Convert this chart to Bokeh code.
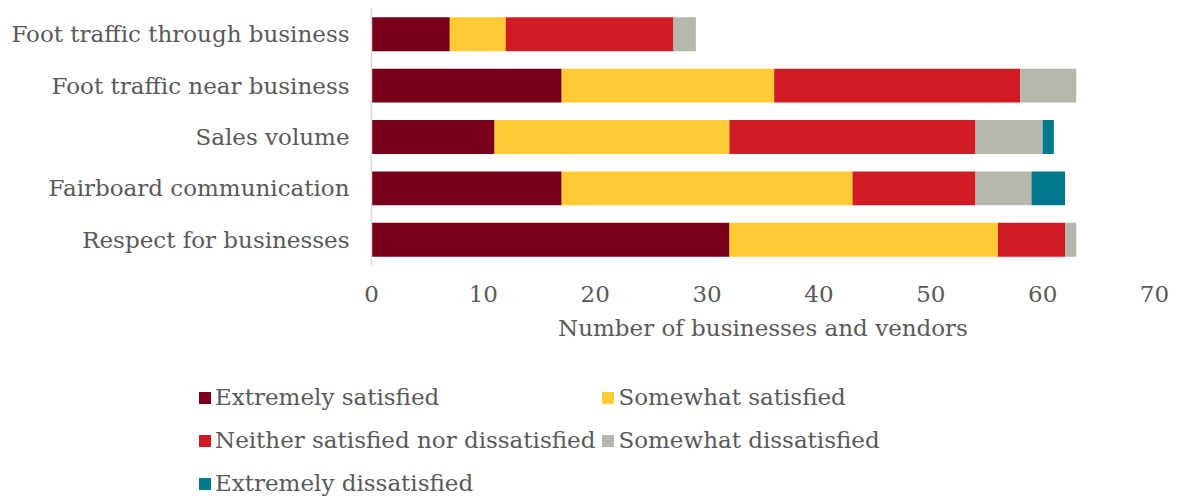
from bokeh.plotting import figure
from bokeh.layouts import column, row
from bokeh.models import ColumnDataSource, Legend, LegendItem, FactorRange, Range1d, FixedTicker, Spacer
from bokeh.embed import file_html
from bokeh.resources import INLINE

categories = [
    "Foot traffic through business",
    "Foot traffic near business",
    "Sales volume",
    "Fairboard communication",
    "Respect for businesses",
]
extremely_satisfied = [7, 17, 11, 17, 32]
somewhat_satisfied = [5, 19, 21, 26, 24]
neither = [15, 22, 22, 11, 6]
somewhat_dissatisfied = [2, 5, 6, 5, 1]
extremely_dissatisfied = [0, 0, 1, 3, 0]

series_names = [
    "Extremely satisfied",
    "Somewhat satisfied",
    "Neither satisfied nor dissatisfied",
    "Somewhat dissatisfied",
    "Extremely dissatisfied",
]
colors = ["#7A001A", "#FFCA33", "#CF1C23", "#B6B7AD", "#00788D"]
x_ticks = [0, 10, 20, 30, 40, 50, 60, 70]

keys = ["es", "ss", "ns", "sd", "ed"]
source = ColumnDataSource(dict(
    cat=categories,
    es=extremely_satisfied,
    ss=somewhat_satisfied,
    ns=neither,
    sd=somewhat_dissatisfied,
    ed=extremely_dissatisfied,
))

TEXT = "#595959"
FONT = "DejaVu Serif"
SIZE = "23px"

# --- main stacked bar chart ---
p = figure(
    width=1181, height=374,
    y_range=FactorRange(*reversed(categories)),
    x_range=Range1d(0, 70),
    output_backend="svg", toolbar_location=None,
    min_border_left=371, min_border_right=27, min_border_top=8, min_border_bottom=109,
)

p.hbar_stack(keys, y="cat", height=0.66, color=colors, source=source, line_color=None)

p.outline_line_color = None
p.xgrid.grid_line_color = None
p.ygrid.grid_line_color = None

p.xaxis.ticker = FixedTicker(ticks=x_ticks)
p.xaxis.axis_line_color = None
p.xaxis.major_tick_line_color = None
p.xaxis.minor_tick_line_color = None
p.xaxis.major_label_text_font = FONT
p.xaxis.major_label_text_font_size = SIZE
p.xaxis.major_label_text_color = TEXT
p.xaxis.major_label_standoff = 14
p.xaxis.axis_label = "Number of businesses and vendors"
p.xaxis.axis_label_text_font = FONT
p.xaxis.axis_label_text_font_size = SIZE
p.xaxis.axis_label_text_font_style = "normal"
p.xaxis.axis_label_text_color = TEXT
p.xaxis.axis_label_standoff = 10

p.yaxis.axis_line_color = "#D9D9D9"
p.yaxis.axis_line_width = 1.5
p.yaxis.major_tick_line_color = None
p.yaxis.minor_tick_line_color = None
p.yaxis.major_label_text_font = FONT
p.yaxis.major_label_text_font_size = SIZE
p.yaxis.major_label_text_color = TEXT
p.yaxis.major_label_standoff = 16

# --- legend strip below the chart ---
# The same stacked bars are drawn here outside the visible x range, so the
# strip only shows the legend that refers to them.
lg = figure(
    width=985, height=124,
    y_range=FactorRange(*reversed(categories)),
    x_range=Range1d(-20, -10),
    x_axis_type=None, y_axis_type=None,
    output_backend="svg", toolbar_location=None,
    min_border=0,
)
lg.outline_line_color = None
lg.xgrid.grid_line_color = None
lg.ygrid.grid_line_color = None

swatches = lg.hbar_stack(keys, y="cat", height=0.66, color=colors, source=source, line_color=None)
items = [LegendItem(label=n, renderers=[r]) for n, r in zip(series_names, swatches)]
legend = Legend(
    items=items,
    orientation="horizontal",
    ncols=2,
    location=(1, -4),
    glyph_width=15, glyph_height=15,
    label_standoff=3,
    label_height=38,
    spacing=5,
    padding=0,
    margin=0,
    label_text_font=FONT,
    label_text_font_size=SIZE,
    label_text_color=TEXT,
    border_line_color=None,
    background_fill_alpha=0,
)
lg.add_layout(legend, "center")

layout = column(p, row(Spacer(width=196, height=124), lg, spacing=0), spacing=0)
open("out.html", "w").write(file_html(layout, INLINE))
